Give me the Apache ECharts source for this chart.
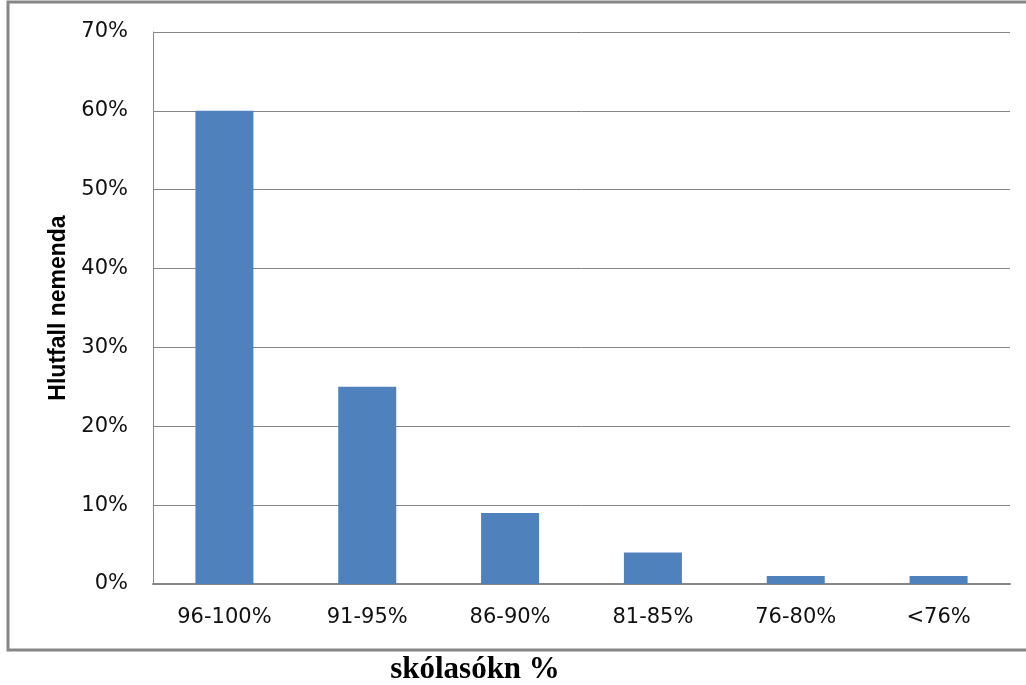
<!DOCTYPE html>
<html>
<head>
<meta charset="utf-8">
<script src="https://cdn.jsdelivr.net/npm/echarts@6/dist/echarts.min.js"></script>
<style>
html,body{margin:0;padding:0;background:#fff;}
#c{width:1026px;height:685px;}
</style>
</head>
<body>
<div id="c"></div>
<script>
var categories = ['96-100%', '91-95%', '86-90%', '81-85%', '76-80%', '<76%'];
var values = [0.60, 0.25, 0.09, 0.04, 0.01, 0.01];
var yTicks = [0, 0.1, 0.2, 0.3, 0.4, 0.5, 0.6, 0.7];
var yTitle = 'Hlutfall nemenda';
var xTitle = 'skólasókn %';

var chart = echarts.init(document.getElementById('c'));
chart.setOption({
  animation: false,
  backgroundColor: '#fff',
  grid: { left: 153, right: 16, top: 32, bottom: 101, containLabel: false },
  xAxis: {
    type: 'category',
    data: categories,
    axisLine: { show: true, lineStyle: { color: '#868686', width: 2 } },
    axisTick: { show: false },
    axisLabel: { color: '#111', fontFamily: 'DejaVu Sans', fontSize: 21, margin: 23 }
  },
  yAxis: {
    type: 'value',
    min: yTicks[0],
    max: yTicks[yTicks.length - 1],
    interval: 0.1,
    name: yTitle,
    nameLocation: 'middle',
    nameGap: 83,
    nameTextStyle: { color: '#000', fontFamily: 'Liberation Sans', fontWeight: 'bold', fontSize: 23 },
    axisLine: { show: true, lineStyle: { color: '#868686', width: 1 } },
    axisTick: { show: false },
    splitLine: { show: true, lineStyle: { color: '#868686', width: 1 } },
    axisLabel: {
      color: '#111', fontFamily: 'DejaVu Sans', fontSize: 21, margin: 25,
      formatter: function (v) { return Math.round(v * 100) + '%'; }
    }
  },
  series: [{
    type: 'bar',
    data: values,
    barWidth: 58,
    itemStyle: { color: '#4F81BD' }
  }],
  graphic: [
    {
      type: 'rect',
      shape: { x: 8, y: 2, width: 1100, height: 648 },
      style: { fill: 'none', stroke: '#868686', lineWidth: 3 },
      silent: true
    },
    {
      type: 'text',
      x: 475, y: 670,
      style: {
        text: xTitle,
        fontFamily: 'Liberation Serif',
        fontWeight: 'bold',
        fontSize: 31,
        fill: '#000',
        align: 'center',
        verticalAlign: 'middle'
      }
    }
  ]
});
</script>
</body>
</html>
